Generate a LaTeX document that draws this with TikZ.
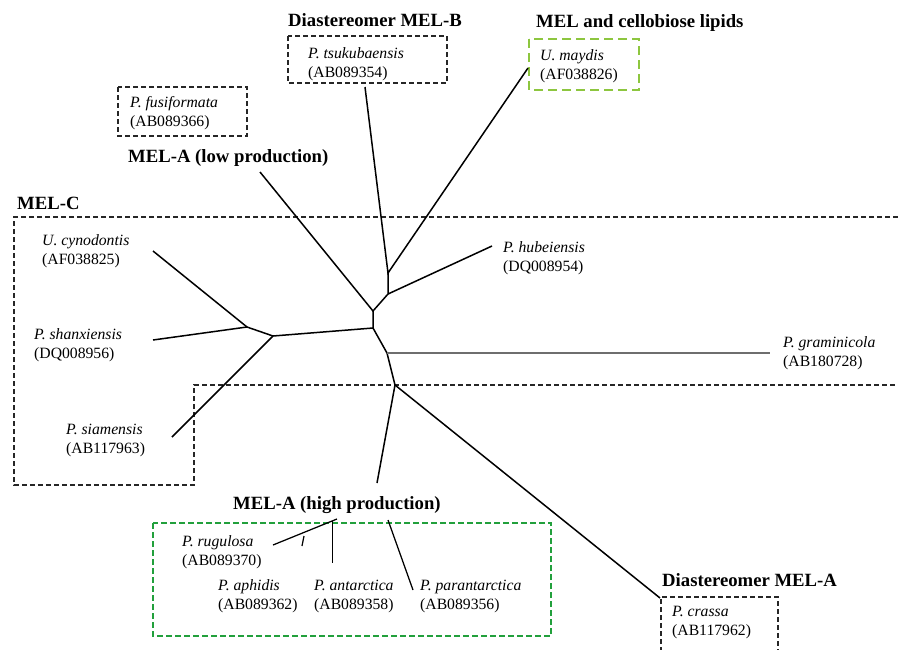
\documentclass[tikz,border=0pt]{standalone}
\usepackage{fontspec}
\setmainfont{Liberation Serif}
\definecolor{lgreen}{RGB}{141,198,63}
\definecolor{dgreen}{RGB}{34,160,60}
\definecolor{brgray}{RGB}{110,110,110}
\begin{document}
\begin{tikzpicture}[x=1pt,y=-1pt,
  br/.style={line width=1.5pt,black},
  thinbr/.style={line width=1.25pt,black},
  grp/.style={font=\fontsize{18.7}{22}\selectfont\bfseries,inner sep=0pt,anchor=west},
  sp/.style={font=\fontsize{15.7}{19}\selectfont,inner sep=0pt,anchor=west,align=left},
  dbox/.style={draw=black!85,line width=1.4pt,dash pattern=on 5pt off 3pt},
  gbox/.style={draw=lgreen,line width=2.6pt,dash pattern=on 9pt off 5pt},
  hbox/.style={draw=dgreen,line width=2pt,dash pattern=on 6pt off 3pt}]
\useasboundingbox (0,0) rectangle (898,649);
% group frames
\draw[dbox] (288,36) rectangle (447,83);
\draw[dbox] (118,87) rectangle (247,136);
\draw[gbox] (529,39) rectangle (639,90);
\draw[dbox] (898,217) -- (14,217) -- (14,485) -- (194,485) -- (194,385) -- (898,385);
\draw[hbox] (153,523) rectangle (551,636);
\draw[dbox] (661,652) -- (661,597) -- (778,597) -- (778,652);
% group labels
\node[grp] (lB) at (288,20) {Diastereomer MEL-B};
\node[grp] (lCel) at (536,23) {MEL and cellobiose lipids};
\node[grp] (lLow) at (128,158) {MEL-A (low production)};
\node[grp] (lC) at (17,203) {MEL-C};
\node[grp] (lHigh) at (233,505) {MEL-A (high production)};
\node[grp] (lDA) at (662,580) {Diastereomer MEL-A};
% species
\node[sp] (tsu) at (308,64) {\textit{P. tsukubaensis}\\(AB089354)};
\node[sp] (fus) at (130,113) {\textit{P. fusiformata}\\(AB089366)};
\node[sp] (may) at (540,66) {\textit{U. maydis}\\(AF038826)};
\node[sp] (cyn) at (42,251) {\textit{U. cynodontis}\\(AF038825)};
\node[sp] (shx) at (34,345) {\textit{P. shanxiensis}\\(DQ008956)};
\node[sp] (sia) at (66,440) {\textit{P. siamensis}\\(AB117963)};
\node[sp] (hub) at (503,258) {\textit{P. hubeiensis}\\(DQ008954)};
\node[sp] (gra) at (783,353) {\textit{P. graminicola}\\(AB180728)};
\node[sp] (rug) at (182,552) {\textit{P. rugulosa}\\(AB089370)};
\node[sp] (aph) at (218,596) {\textit{P. aphidis}\\(AB089362)};
\node[sp] (ant) at (314,596) {\textit{P. antarctica}\\(AB089358)};
\node[sp] (par) at (420,596) {\textit{P. parantarctica}\\(AB089356)};
\node[sp] (cra) at (672,623) {\textit{P. crassa}\\(AB117962)};
% tree coordinates
\coordinate (D) at (388,273);
\coordinate (C) at (388,294);
\coordinate (A) at (373,311);
\coordinate (B) at (373,328);
\coordinate (E) at (273,336);
\coordinate (H) at (247,327);
\coordinate (G) at (387,353);
\coordinate (F) at (395,385);
\coordinate (tTsu) at (365,87);
\coordinate (tMay) at (528,68);
\coordinate (tHub) at (492,246);
\coordinate (tLow) at (260,172);
\coordinate (tCyn) at (153,251);
\coordinate (tShx) at (153,340);
\coordinate (tSia) at (172,437);
\coordinate (tGra) at (770,353);
\coordinate (tCra) at (660,598);
\coordinate (tHigh) at (377,483);
\coordinate (J) at (337,519);
\coordinate (tRug) at (273,545);
\coordinate (K) at (332.4,521);
\coordinate (tAnt) at (332.4,563);
\coordinate (aphA) at (304,536);
\coordinate (aphB) at (302,546);
\coordinate (L) at (388,520);
\coordinate (tPar) at (413,590);
% branches
\draw[br] (tTsu) -- (D) -- (tMay);
\draw[br] (D) -- (C) -- (tHub);
\draw[br] (C) -- (A) -- (tLow);
\draw[br] (A) -- (B) -- (E);
\draw[br] (E) -- (H) -- (tCyn);
\draw[br] (H) -- (tShx);
\draw[br] (E) -- (tSia);
\draw[br] (B) -- (G) -- (F) -- (tCra);
\draw[line width=1.8pt,brgray] (G) -- (tGra);
\draw[br] (F) -- (tHigh);
\draw[thinbr] (tRug) -- (J);
\draw[thinbr] (K) -- (tAnt);
\draw[thinbr] (aphA) -- (aphB);
\draw[thinbr] (L) -- (tPar);
\end{tikzpicture}
\end{document}
